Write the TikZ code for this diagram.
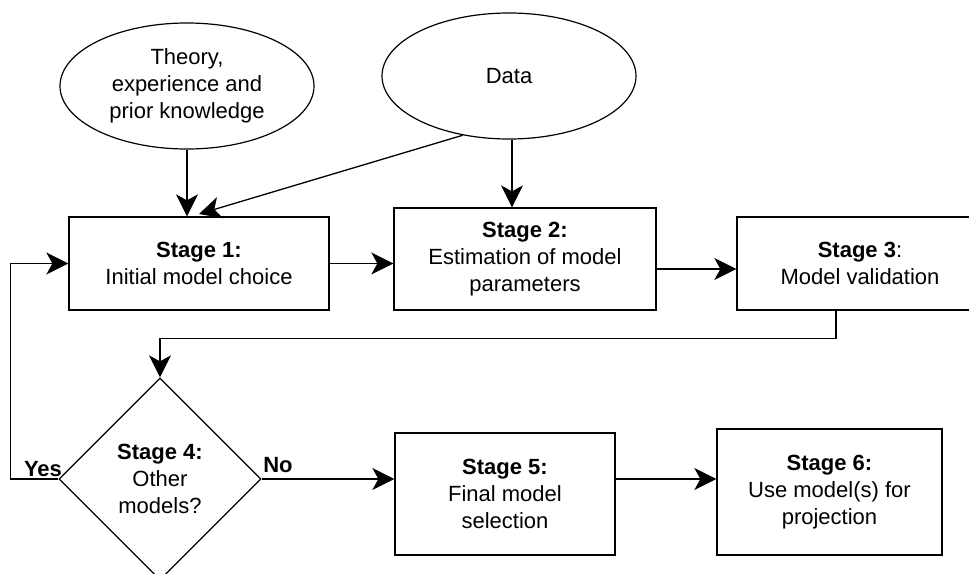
\documentclass[tikz,border=0pt]{standalone}
\usepackage{fontspec}
\setmainfont{Liberation Sans}
\usetikzlibrary{shapes.geometric,arrows.meta}
\begin{document}
\begin{tikzpicture}[x=1pt,y=-1pt,
  every node/.style={font=\fontsize{22}{27}\selectfont, align=center, inner sep=0pt},
  stagebox/.style={draw, line width=1.3pt, rectangle},
  oval/.style={draw, line width=1.2pt, ellipse, minimum width=254pt, minimum height=126pt},
  arr/.style={line width=1.3pt, -{Stealth[length=22pt,width=22pt,inset=6pt]}},
  plain/.style={line width=1.3pt}]
\useasboundingbox (0,0) rectangle (969,573);
\node[oval] (th) at (187,86) {Theory,\\experience and\\prior knowledge};
\node[oval] (data) at (509,76) {Data};
\node[stagebox, minimum width=260pt, minimum height=93pt] (s1) at (199,263.5) {\textbf{Stage 1:}\\Initial model choice};
\node[stagebox, minimum width=262pt, minimum height=102pt] (s2) at (525,259) {\textbf{Stage 2:}\\Estimation of model\\parameters};
\node[stagebox, minimum width=246pt, minimum height=93pt] (s3) at (860,263.5) {\textbf{Stage 3}:\\Model validation};
\node[draw, diamond, line width=1.3pt, minimum width=202pt, minimum height=202pt] (d) at (160,479) {\textbf{Stage 4:}\\Other\\models?};
\node[stagebox, minimum width=220pt, minimum height=122pt] (s5) at (505,494) {\textbf{Stage 5:}\\Final model\\selection};
\node[stagebox, minimum width=225pt, minimum height=126pt] (s6) at (829.5,492) {\textbf{Stage 6:}\\Use model(s) for\\projection};
\node[anchor=base, font=\fontsize{22}{27}\selectfont\bfseries] (yes) at (43,476) {Yes};
\node[anchor=base, font=\fontsize{22}{27}\selectfont\bfseries] (no) at (278,472) {No};
\coordinate (s1tip) at (199,214);
\draw[arr] (th.south) -- (th.south |- s1.north);
\draw[arr] (data.232) -- (s1tip);
\draw[arr] (data.south -| 512,0) -- (s2.north -| 512,0);
\draw[arr] (s1.east) -- (s1.east -| s2.west);
\draw[arr] (s2.east |- 0,269) -- (s3.west |- 0,269);
\draw[arr] ([xshift=-24pt]s3.south) -- ++(0,28) -| (d.north);
\draw[arr] (d.west) -- ++(-48,0) |- (s1.west);
\draw[arr] (d.east) -- (d.east -| s5.west);
\draw[arr] (s5.east |- 0,479) -- (s6.west |- 0,479);
\end{tikzpicture}
\end{document}
